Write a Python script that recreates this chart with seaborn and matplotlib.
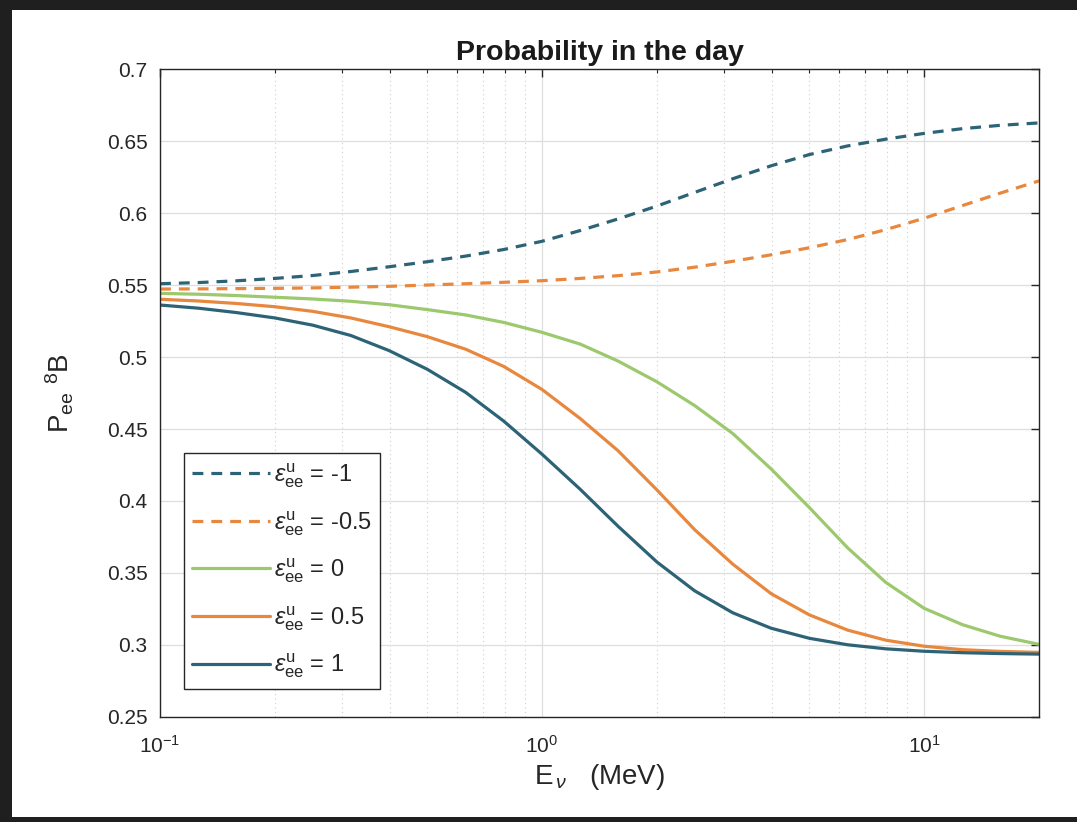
import numpy as np
import pandas as pd
import matplotlib
matplotlib.use("Agg")
import matplotlib.pyplot as plt
from matplotlib.patches import Rectangle
from matplotlib.ticker import FixedLocator, FixedFormatter, LogLocator, NullFormatter
import seaborn as sns

# ---------------- data ----------------
energy = [0.1, 0.126, 0.158, 0.2, 0.251, 0.316, 0.398, 0.501, 0.631, 0.794,
          1.0, 1.26, 1.58, 2.0, 2.51, 3.16, 3.98, 5.01, 6.31, 7.94,
          10.0, 12.6, 15.8, 20.0]

p_eps_m1 = [0.5510, 0.5518, 0.5530, 0.5547, 0.5567, 0.5595, 0.5628, 0.5663,
            0.5702, 0.5748, 0.5805, 0.5880, 0.5960, 0.6050, 0.6145, 0.6240,
            0.6330, 0.6408, 0.6468, 0.6515, 0.6555, 0.6588, 0.6611, 0.6628]
p_eps_m05 = [0.5473, 0.5474, 0.5476, 0.5478, 0.5481, 0.5486, 0.5492, 0.5501,
             0.5510, 0.5520, 0.5531, 0.5547, 0.5566, 0.5592, 0.5625, 0.5666,
             0.5711, 0.5760, 0.5817, 0.5886, 0.5965, 0.6053, 0.6139, 0.6225]
p_eps_0 = [0.5443, 0.5437, 0.5428, 0.5416, 0.5404, 0.5388, 0.5364, 0.5330,
           0.5293, 0.5241, 0.5172, 0.5090, 0.4973, 0.4828, 0.4663, 0.4468,
           0.4222, 0.3954, 0.3674, 0.3434, 0.3254, 0.3140, 0.3060, 0.3003]
p_eps_05 = [0.5402, 0.5390, 0.5373, 0.5350, 0.5318, 0.5272, 0.5211, 0.5142,
            0.5055, 0.4935, 0.4775, 0.4572, 0.4350, 0.4076, 0.3800, 0.3560,
            0.3355, 0.3208, 0.3102, 0.3032, 0.2990, 0.2966, 0.2954, 0.2947]
p_eps_1 = [0.5362, 0.5340, 0.5310, 0.5272, 0.5222, 0.5150, 0.5045, 0.4915,
           0.4755, 0.4555, 0.4325, 0.4080, 0.3825, 0.3575, 0.3375, 0.3222,
           0.3115, 0.3045, 0.3000, 0.2972, 0.2955, 0.2945, 0.2939, 0.2935]

series_labels = [r'$\epsilon^{\mathrm{u}}_{\mathrm{ee}}$ = -1',
                 r'$\epsilon^{\mathrm{u}}_{\mathrm{ee}}$ = -0.5',
                 r'$\epsilon^{\mathrm{u}}_{\mathrm{ee}}$ = 0',
                 r'$\epsilon^{\mathrm{u}}_{\mathrm{ee}}$ = 0.5',
                 r'$\epsilon^{\mathrm{u}}_{\mathrm{ee}}$ = 1']
series_values = [p_eps_m1, p_eps_m05, p_eps_0, p_eps_05, p_eps_1]
series_colors = ['#2d6376', '#e8873e', '#9cc86e', '#e8873e', '#2d6376']
series_dashed = [True, True, False, False, False]

ytick_values = [0.25, 0.3, 0.35, 0.4, 0.45, 0.5, 0.55, 0.6, 0.65, 0.7]
ytick_labels = ['0.25', '0.3', '0.35', '0.4', '0.45', '0.5', '0.55', '0.6', '0.65', '0.7']

title_text = 'Probability in the day'
xlabel_text = r'E$_{\,\nu}$   (MeV)'
ylabel_text = r'P$_{\mathrm{ee}}$ $^{\mathrm{8}}$B'

# ---------------- style ----------------
sns.set_theme(style='white')
plt.rcParams['font.family'] = ['Liberation Sans', 'DejaVu Sans']
plt.rcParams['mathtext.fontset'] = 'custom'
plt.rcParams['mathtext.rm'] = 'Liberation Sans'
plt.rcParams['mathtext.it'] = 'Liberation Sans:italic'
plt.rcParams['mathtext.bf'] = 'Liberation Sans:bold'
plt.rcParams['mathtext.sf'] = 'Liberation Sans'
plt.rcParams['axes.unicode_minus'] = False

W, H = 1077, 822
fig = plt.figure(figsize=(W / 100, H / 100), dpi=100)
fig.patch.set_facecolor('#1f1f1f')
fig.add_artist(Rectangle((12 / W, (H - 817) / H), (W - 12) / W, (817 - 10) / H,
                         transform=fig.transFigure, facecolor='white',
                         edgecolor='none', zorder=-10))

ax = fig.add_axes([160 / W, (H - 716.7) / H, (1039 - 160) / W, (716.7 - 69.4) / H])
ax.set_facecolor('white')

for lab, vals, col, dashed in zip(series_labels, series_values, series_colors, series_dashed):
    d = pd.DataFrame({'E': energy, 'P': vals})
    sns.lineplot(data=d, x='E', y='P', ax=ax, color=col, linewidth=2.3,
                 label=lab, sort=False)
    if dashed:
        ax.lines[-1].set_dashes([3.4, 2.5])

ax.set_xscale('log')
ax.set_xlim(0.1, 20)
ax.set_ylim(0.25, 0.7)

ax.yaxis.set_major_locator(FixedLocator(ytick_values))
ax.yaxis.set_major_formatter(FixedFormatter(ytick_labels))
ax.xaxis.set_major_locator(LogLocator(base=10, numticks=10))
ax.xaxis.set_minor_locator(LogLocator(base=10, subs=np.arange(2, 10), numticks=20))
ax.xaxis.set_minor_formatter(NullFormatter())

ax.grid(True, which='major', color='#dedede', linewidth=0.9, linestyle='-')
ax.grid(True, which='minor', axis='x', color='#cfcfcf', linewidth=0.8, linestyle=(0, (1, 3)))
ax.set_axisbelow(True)

for s in ax.spines.values():
    s.set_color('#262626')
    s.set_linewidth(1.0)
    s.set_visible(True)

ax.tick_params(which='major', direction='in', top=True, right=True, length=6,
               width=1.0, color='#262626', labelsize=15, labelcolor='#262626', pad=9)
ax.tick_params(axis='x', which='major', pad=13)
ax.tick_params(which='minor', direction='in', top=True, right=True, length=3,
               width=0.8, color='#262626')

ax.set_title(title_text, fontsize=20.5, fontweight='bold', color='#1a1a1a', pad=7)
ax.set_xlabel(xlabel_text, fontsize=20, color='#262626', labelpad=4)
ax.set_ylabel(ylabel_text, fontsize=20, color='#262626', labelpad=22)

leg = ax.legend(loc='lower left', bbox_to_anchor=(24 / 879, 28 / 647.3),
                fontsize=17, frameon=True, fancybox=False, framealpha=1,
                edgecolor='#262626', handlelength=3.3, handletextpad=0.15,
                labelspacing=0.8, borderpad=0.35, borderaxespad=0)
leg.get_frame().set_linewidth(1.0)

fig.savefig('out.png', dpi=100, facecolor=fig.get_facecolor())
